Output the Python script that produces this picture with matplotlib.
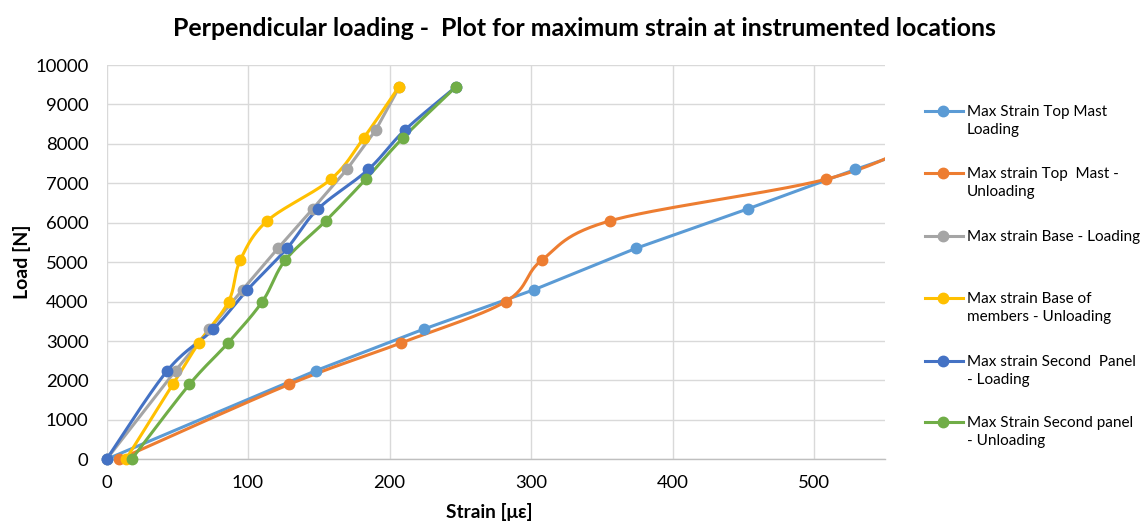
import numpy as np
import matplotlib
matplotlib.use("Agg")
import matplotlib.pyplot as plt
from matplotlib.lines import Line2D
from matplotlib.patches import Rectangle

plt.rcParams['font.family'] = ['Lato', 'DejaVu Sans']

# ---- data ----
loads_loading = [0, 2250, 3300, 4300, 5350, 6350, 7350, 8350, 9450]
loads_unloading = [0, 1900, 2950, 4000, 5050, 6050, 7100, 8150, 9450]

strain_top_loading = [0, 148, 224, 302, 374, 453, 529, 610, 690]
strain_top_unloading = [9, 129, 208, 282, 307.5, 356, 508, 585, 690]
strain_base_loading = [0, 48.8, 72.7, 96.1, 121.1, 145.7, 169.8, 190.2, 207]
strain_base_unloading = [13.7, 46.9, 65.2, 86.2, 94.5, 113.6, 158.4, 181.7, 206.6]
strain_second_loading = [0, 43, 75.5, 99.6, 127.5, 149.4, 185, 210.8, 247]
strain_second_unloading = [17.7, 58.6, 85.8, 110.1, 126.3, 155, 183.1, 209.4, 247]

labels = [
    "Max Strain Top Mast\nLoading",
    "Max strain Top  Mast -\nUnloading",
    "Max strain Base - Loading",
    "Max strain Base of\nmembers - Unloading",
    "Max strain Second  Panel\n- Loading",
    "Max Strain Second panel\n- Unloading",
]
colors = ["#5B9BD5", "#ED7D31", "#A5A5A5", "#FFC000", "#4472C4", "#70AD47"]
smooth = [False, True, False, True, True, True]

series = [
    (strain_top_loading, loads_loading),
    (strain_top_unloading, loads_unloading),
    (strain_base_loading, loads_loading),
    (strain_base_unloading, loads_unloading),
    (strain_second_loading, loads_loading),
    (strain_second_unloading, loads_unloading),
]


def smooth_path(x, y, n=30):
    """Excel-like smoothed line: cubic Bezier through points."""
    p = np.column_stack([x, y]).astype(float)
    pts = []
    m = len(p)
    for i in range(m - 1):
        p0 = p[i - 1] if i > 0 else p[i]
        p1 = p[i]
        p2 = p[i + 1]
        p3 = p[i + 2] if i + 2 < m else p[i + 1]
        c1 = p1 + (p2 - p0) / 6.0
        c2 = p2 - (p3 - p1) / 6.0
        t = np.linspace(0, 1, n, endpoint=(i == m - 2))[:, None]
        b = ((1 - t) ** 3) * p1 + 3 * ((1 - t) ** 2) * t * c1 + 3 * (1 - t) * t ** 2 * c2 + t ** 3 * p2
        pts.append(b)
    b = np.vstack(pts)
    return b[:, 0], b[:, 1]


W, H = 1142, 522
fig = plt.figure(figsize=(W / 100, H / 100), dpi=100)
ax = fig.add_axes([106.5 / W, 1 - 459.3 / H, (885 - 106.5) / W, (459.3 - 65) / H])

# clip region: right edge of plot, but let markers overhang the bottom/left
clip_rect = Rectangle((-0.03, -0.05), 1.03, 1.1, transform=ax.transAxes,
                      facecolor='none', edgecolor='none')
ax.add_patch(clip_rect)

for (xs, ys), c, sm in zip(series, colors, smooth):
    if sm:
        sx, sy = smooth_path(xs, ys)
    else:
        sx, sy = xs, ys
    ln, = ax.plot(sx, sy, color=c, lw=2.2, solid_capstyle='round', zorder=3)
    mk, = ax.plot(xs, ys, ls='none', marker='o', ms=7.5, color=c, mec=c, zorder=4)
    ln.set_clip_path(clip_rect)
    mk.set_clip_path(clip_rect)

ax.set_xlim(0, 550)
ax.set_ylim(0, 10000)
ax.set_xticks(np.arange(0, 501, 100))
ax.set_yticks(np.arange(0, 10001, 1000))
ax.grid(True, color='#d9d9d9', lw=1.0, zorder=0)
ax.set_axisbelow(True)
for s in ['top', 'right', 'left']:
    ax.spines[s].set_visible(False)
ax.spines['bottom'].set_color('#bfbfbf')
ax.spines['bottom'].set_linewidth(1.0)
ax.tick_params(length=0, labelsize=13.3, colors='#000000', pad=13)
ax.tick_params(axis='x', pad=11)

fig.text(22 / W, 1 - 262 / H, "Load [N]", rotation=90, ha='center', va='center',
         fontsize=14, fontweight='bold')
fig.text(489 / W, 1 - 512 / H, "Strain [\u03bc\u03b5]", ha='center', va='center',
         fontsize=13.7, fontweight='bold')
fig.text(584 / W, 1 - 28 / H,
         "Perpendicular loading -  Plot for maximum strain at instrumented locations",
         ha='center', va='center', fontsize=17.9, fontweight='bold')

# legend (manual, Excel-like layout)
leg_y = [111, 173, 236, 298, 361, 422]
for yy, c, lab in zip(leg_y, colors, labels):
    fy = 1 - yy / H
    fig.add_artist(Line2D([925 / W, 963 / W], [fy, fy], color=c, lw=2.2,
                          transform=fig.transFigure))
    fig.add_artist(Line2D([943 / W], [fy], marker='o', ms=7.5, color=c,
                          transform=fig.transFigure))
    fig.text(967 / W, 1 - (yy - 6) / H, lab, ha='left', va='top', fontsize=11,
             linespacing=1.32)

fig.savefig("out.png", dpi=100)
